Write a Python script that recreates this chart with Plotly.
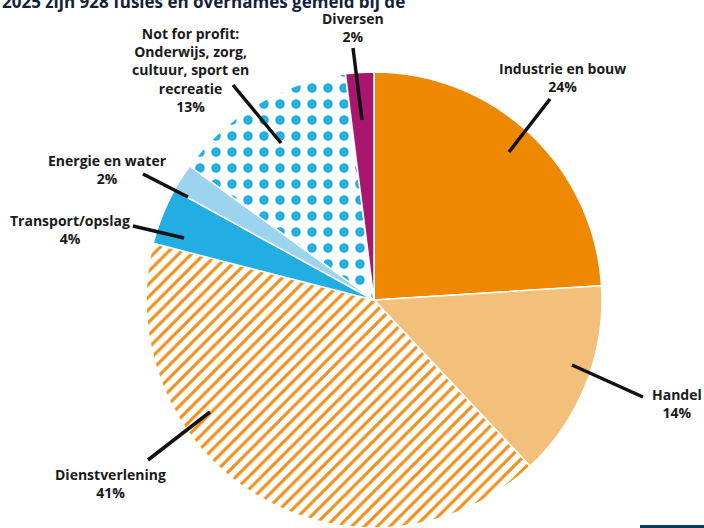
import plotly.graph_objects as go

# ---- data ----
sectors = ["Industrie en bouw", "Handel", "Dienstverlening", "Transport/opslag",
           "Energie en water", "Not for profit: Onderwijs, zorg, cultuur, sport en recreatie", "Diversen"]
shares = [24, 14, 41, 4, 2, 13, 2]
label_texts = ["Industrie en bouw<br>24%", "Handel<br>14%", "Dienstverlening<br>41%",
               "Transport/opslag<br>4%", "Energie en water<br>2%",
               "Not for profit:<br>Onderwijs, zorg,<br>cultuur, sport en<br>recreatie<br>13%",
               "Diversen<br>2%"]
title_text = "2025 zijn 928 fusies en overnames gemeld bij de"

# ---- styles ----
W, H = 704, 528
fill_colors = ["#EE8800", "#F3C07B", "#FFFFFF", "#22ADE3", "#9CD4EF", "#FFFFFF", "#A8166F"]
pattern_shapes = ["", "", "/", "", "", ".", ""]
pattern_fg = ["#EE8800", "#F3C07B", "#F0901C", "#22ADE3", "#9CD4EF", "#26AEE4", "#A8166F"]
pattern_size = [8, 8, 9, 8, 8, 16, 8]
pattern_solid = [0.3, 0.3, 0.35, 0.3, 0.3, 0.28, 0.3]

# label text centre (px) and leader line (outer px, inner px)
label_pos = [(562, 78), (677, 403), (110, 483), (70, 229), (107, 169), (190, 70), (353, 27)]
leader = [((550, 99), (509, 152)), ((643, 397), (572, 365)), ((148, 460), (210, 412)),
          ((133, 226), (184, 238)), ((143, 174), (188, 197)), ((233, 85), (281, 143)),
          ((353, 48), (362, 120))]

cx, cy, r = 374, 300, 228

fig = go.Figure(go.Pie(
    labels=sectors, values=shares, sort=False, direction="clockwise", rotation=0,
    textinfo="none", hoverinfo="label+percent", showlegend=False,
    domain=dict(x=[(cx - r) / W, (cx + r) / W], y=[(H - cy - r) / H, (H - cy + r) / H]),
    marker=dict(colors=fill_colors, line=dict(color="white", width=1.5),
                pattern=dict(shape=pattern_shapes, fgcolor=pattern_fg, bgcolor=fill_colors,
                             fgopacity=1, size=pattern_size, solidity=pattern_solid,
                             fillmode="overlay")),
))

def px(x, y):
    return x / W, 1 - y / H

shapes = []
for (o, i) in leader:
    x0, y0 = px(*o)
    x1, y1 = px(*i)
    shapes.append(dict(type="line", xref="paper", yref="paper", x0=x0, y0=y0, x1=x1, y1=y1,
                       line=dict(color="#111111", width=3.5)))
shapes.append(dict(type="rect", xref="paper", yref="paper", x0=640 / W, x1=1, y0=0, y1=3 / H,
                   fillcolor="#0E3A57", line=dict(width=0)))

annotations = []
for t, (x, y) in zip(label_texts, label_pos):
    ax, ay = px(x, y)
    annotations.append(dict(text=t, x=ax, y=ay, xref="paper", yref="paper", showarrow=False,
                            xanchor="center", yanchor="middle", align="center",
                            font=dict(family="Open Sans", size=14, color="#1a1a1a", weight="bold")))
annotations.append(dict(text=title_text, x=0, y=1 - 1 / H, xref="paper", yref="paper",
                        showarrow=False, xanchor="left", yanchor="middle",
                        font=dict(family="Open Sans", size=17, color="#13213a", weight="bold")))

fig.update_layout(width=W, height=H, autosize=False, margin=dict(l=0, r=0, t=0, b=0),
                  paper_bgcolor="white", plot_bgcolor="white",
                  shapes=shapes, annotations=annotations)

fig.write_html("out.html")
